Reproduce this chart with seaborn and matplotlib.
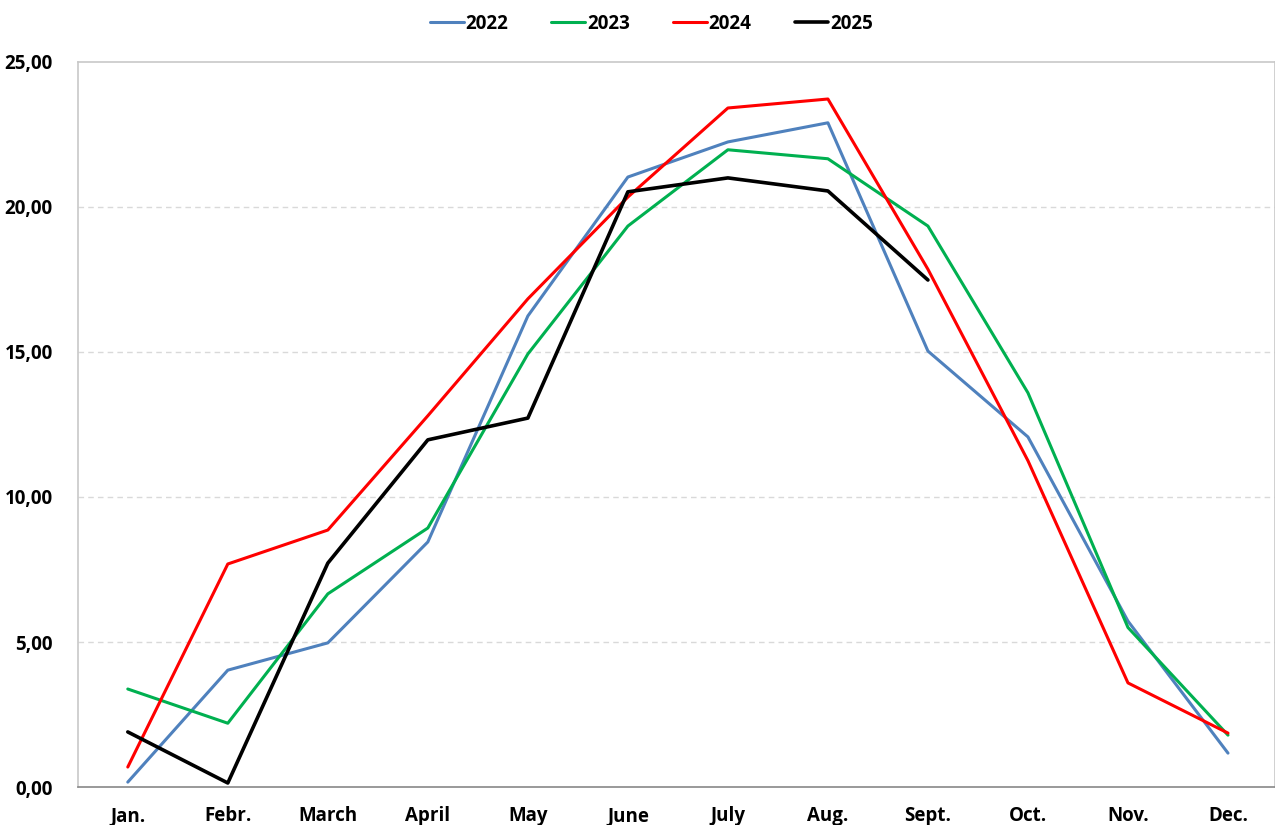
import numpy as np
import pandas as pd
import matplotlib
matplotlib.use("Agg")
import matplotlib.pyplot as plt
import seaborn as sns

months = ["Jan.", "Febr.", "March", "April", "May", "June",
          "July", "Aug.", "Sept.", "Oct.", "Nov.", "Dec."]

temp_2022 = [0.17, 4.03, 4.97, 8.45, 16.24, 21.03, 22.24, 22.90, 15.03, 12.07, 5.72, 1.17]
temp_2023 = [3.38, 2.20, 6.66, 8.93, 14.93, 19.34, 21.97, 21.66, 19.34, 13.59, 5.50, 1.79]
temp_2024 = [0.69, 7.69, 8.86, 12.80, 16.83, 20.34, 23.41, 23.72, 17.85, 11.25, 3.59, 1.86]
temp_2025 = [1.90, 0.14, 7.72, 11.97, 12.72, 20.52, 21.00, 20.55, 17.48]

years = ["2022", "2023", "2024", "2025"]
colors = {"2022": "#4F81BD", "2023": "#00B050", "2024": "#FF0000", "2025": "#000000"}
widths = {"2022": 2.2, "2023": 2.2, "2024": 2.2, "2025": 2.6}

series = {"2022": temp_2022, "2023": temp_2023, "2024": temp_2024, "2025": temp_2025}
rows = []
for year, vals in series.items():
    for i, v in enumerate(vals):
        rows.append({"month": i, "year": year, "temp": v})
df = pd.DataFrame(rows)

sns.set_theme(style="white")
plt.rcParams["font.family"] = ["Open Sans", "DejaVu Sans"]
plt.rcParams["font.weight"] = "bold"
plt.rcParams["text.color"] = "black"
plt.rcParams["xtick.color"] = "black"
plt.rcParams["ytick.color"] = "black"

fig, ax = plt.subplots(figsize=(12.75, 8.25), dpi=100)
fig.subplots_adjust(left=0.061, right=1.0, top=0.925, bottom=0.046)

for year in years:
    sub = df[df["year"] == year]
    sns.lineplot(data=sub, x="month", y="temp", color=colors[year],
                 linewidth=widths[year], label=year, ax=ax, sort=False)

ax.set_xlim(-0.5, 11.47)
ax.set_ylim(0, 25)
ax.set_yticks(np.arange(0, 26, 5))
ax.set_yticklabels([f"{v:.2f}".replace(".", ",") for v in np.arange(0, 26, 5)],
                   fontsize=13.5, fontweight="bold", color="black")
ax.set_xticks(range(len(months)))
ax.set_xticklabels(months, fontsize=13.5, fontweight="bold", color="black")
ax.tick_params(axis="y", length=0, pad=18)
ax.tick_params(axis="x", length=0, pad=14)
ax.set_xlabel("")
ax.set_ylabel("")

for y in [5, 10, 15, 20]:
    ax.axhline(y, color="#D9D9D9", linestyle=(0, (4, 3)), linewidth=1.0, zorder=0)

for side in ["top", "left", "right"]:
    ax.spines[side].set_color("#C8C8C8")
    ax.spines[side].set_linewidth(1.2)
ax.spines["bottom"].set_color("#888888")
ax.spines["bottom"].set_linewidth(1.2)

ax.get_legend().remove()
handles, labels = ax.get_legend_handles_labels()
fig.legend(handles, labels, loc="upper center", bbox_to_anchor=(0.511, 1.004),
           ncol=4, frameon=False, handlelength=1.8, handletextpad=0.1,
           columnspacing=2.3, labelcolor="black",
           prop={"size": 13.5, "weight": "bold"})

fig.savefig("out.png", dpi=100)
